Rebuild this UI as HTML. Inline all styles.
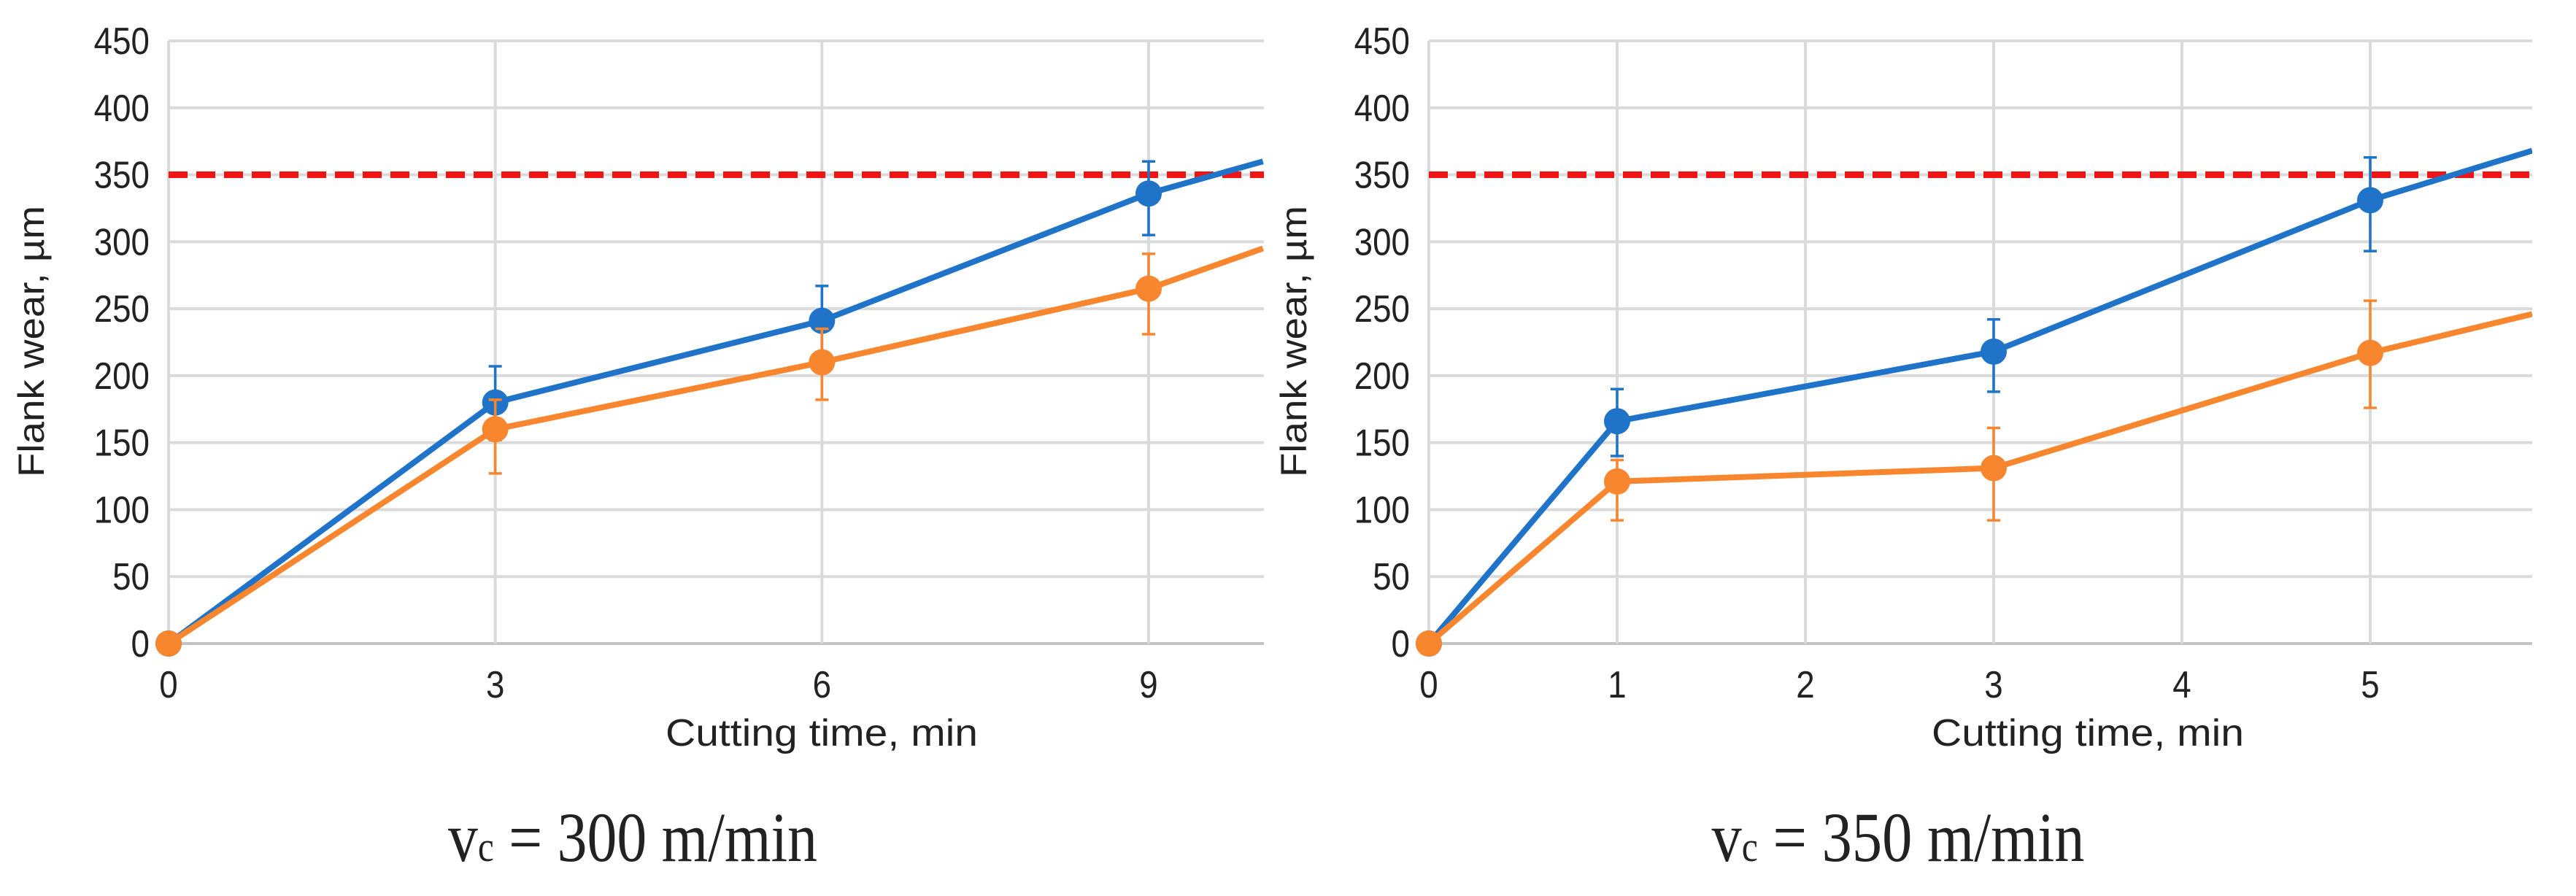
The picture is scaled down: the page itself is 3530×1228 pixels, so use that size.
<!DOCTYPE html>
<html><head><meta charset="utf-8"><style>
html,body{margin:0;padding:0;background:#fff}
svg{display:block}
text{font-family:"Liberation Sans",sans-serif;fill:#222}
</style></head><body>
<svg id="fig" width="3530" height="1228" viewBox="0 0 3530 1228" xmlns="http://www.w3.org/2000/svg"></svg>
<script>
// Left chart data (vc = 300 m/min)
const leftX = [0, 3, 6, 9, 10.05];
const leftBlue = [0, 180, 241, 336, 360];
const leftOrange = [0, 160, 210, 265, 295];
const leftBlueErrLo = [null, 152, 213, 305];
const leftBlueErrHi = [null, 207, 267, 360];
const leftOrangeErrLo = [null, 127, 182, 231];
const leftOrangeErrHi = [null, 182, 235, 291];
const leftTicks = [0, 3, 6, 9];
// Right chart data (vc = 350 m/min)
const rightX = [0, 1, 3, 5, 5.86];
const rightBlue = [0, 166, 218, 331, 368];
const rightOrange = [0, 121, 131, 217, 246];
const rightBlueErrLo = [null, 140, 188, 293];
const rightBlueErrHi = [null, 190, 242, 363];
const rightOrangeErrLo = [null, 92, 92, 176];
const rightOrangeErrHi = [null, 137, 161, 256];
const rightTicks = [0, 1, 2, 3, 4, 5];
const yTicks = [0, 50, 100, 150, 200, 250, 300, 350, 400, 450];
const limitValue = 350;

const NS = "http://www.w3.org/2000/svg";
const svg = document.getElementById("fig");
function mk(tag, attrs, parent, txt) {
  const e = document.createElementNS(NS, tag);
  for (const k in attrs) e.setAttribute(k, attrs[k]);
  if (txt !== undefined) e.textContent = txt;
  (parent || svg).appendChild(e);
  return e;
}
const Y0 = 882, YTOP = 56;
function yS(v) { return Y0 - v / 450 * (Y0 - YTOP); }
const BLUE = "#1f73c8", ORANGE = "#f7862f";

function chart(cfg) {
  const g = mk("g", {});
  
  
  const xS = v => cfg.x0 + v * cfg.unit;
  yTicks.forEach(t => {
    const l = mk("line", {x1: cfg.x0, x2: cfg.xR, y1: yS(t), y2: yS(t), stroke: t === 0 ? "#c4c4c4" : "#dadada", "stroke-width": 4}, g);
    
    
    const tx = mk("text", {x: cfg.x0 - 26, y: yS(t) + 18, "text-anchor": "end", "font-size": 52, transform: `translate(${(cfg.x0-26)*0.12},0) scale(0.88,1)`}, g, String(t));
    
    
  });
  cfg.ticks.forEach(t => {
    const l = mk("line", {x1: xS(t), x2: xS(t), y1: YTOP, y2: Y0, stroke: "#dadada", "stroke-width": 4}, g);
    
    
    const tx = mk("text", {x: xS(t), y: 956, "text-anchor": "middle", "font-size": 52, transform: `translate(${xS(t)*0.12},0) scale(0.88,1)`}, g, String(t));
    
    
  });
  const lim = mk("line", {x1: cfg.x0, x2: cfg.xR, y1: yS(limitValue), y2: yS(limitValue), stroke: "#f01414", "stroke-width": 9, "stroke-dasharray": "26 12"}, g);
  
  
  const clipId = cfg.name + "-clip";
  const cp = mk("clipPath", {id: clipId}, g);
  mk("rect", {x: cfg.x0 - 30, y: 0, width: cfg.xR - cfg.x0 + 30, height: 1000}, cp);
  [[cfg.blue, cfg.bLo, cfg.bHi, BLUE, "blue"], [cfg.orange, cfg.oLo, cfg.oHi, ORANGE, "orange"]].forEach(([vals, lo, hi, col, nm]) => {
    const sg = mk("g", {"clip-path": "url(#" + clipId + ")"}, g);
    
    
    const pts = vals.map((v, i) => xS(cfg.xs[i]) + "," + yS(v)).join(" ");
    const pl = mk("polyline", {points: pts, fill: "none", stroke: col, "stroke-width": 8, "stroke-linejoin": "round"}, sg);
    
    
    for (let i = 0; i < 4; i++) {
      const cx = xS(cfg.xs[i]);
      if (lo[i] !== null) {
        const eb = mk("path", {d: `M${cx},${yS(lo[i])}V${yS(hi[i])}M${cx-9},${yS(lo[i])}h18M${cx-9},${yS(hi[i])}h18`, stroke: col, "stroke-width": 3.5, fill: "none"}, sg);
        
        
      }
      const c = mk("circle", {cx: cx, cy: yS(vals[i]), r: 18, fill: col}, sg);
      
      
    }
  });
  const xt = mk("text", {x: cfg.xTitle, y: 1022, "text-anchor": "middle", "font-size": 52, textLength: 428, lengthAdjust: "spacingAndGlyphs"}, g, "Cutting time, min");
  
  
  const yt = mk("text", {x: 0, y: 0, "text-anchor": "middle", "font-size": 50, transform: `translate(${cfg.yTitleX},468) rotate(-90)`, textLength: 372, lengthAdjust: "spacingAndGlyphs"}, g, "Flank wear, µm");
  
  
  const cap = mk("text", {x: cfg.capX, y: 1180, "text-anchor": "middle", "font-size": 96, textLength: cfg.capW, lengthAdjust: "spacingAndGlyphs", style: 'font-family:"Liberation Serif",serif'}, g);
  
  
  mk("tspan", {}, cap, "v");
  mk("tspan", {"font-size": 58}, cap, "c");
  mk("tspan", {}, cap, " = " + cfg.speed + " m/min");
}
chart({name: "chart-300", x0: 231, unit: 1343 / 9, xR: 1732, xs: leftX, ticks: leftTicks,
  blue: leftBlue, orange: leftOrange, bLo: leftBlueErrLo, bHi: leftBlueErrHi, oLo: leftOrangeErrLo, oHi: leftOrangeErrHi,
  xTitle: 1126, yTitleX: 60, capX: 867, capW: 506, speed: "300"});
chart({name: "chart-350", x0: 1958, unit: 258, xR: 3470, xs: rightX, ticks: rightTicks,
  blue: rightBlue, orange: rightOrange, bLo: rightBlueErrLo, bHi: rightBlueErrHi, oLo: rightOrangeErrLo, oHi: rightOrangeErrHi,
  xTitle: 2861, yTitleX: 1790, capX: 2601, capW: 511, speed: "350"});
</script>
</body></html>
